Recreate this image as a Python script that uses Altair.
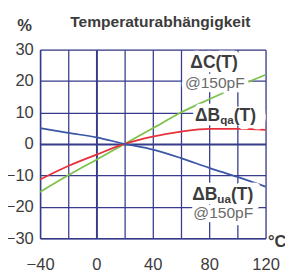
import altair as alt
import pandas as pd

# data
temps = [-40, -20, 0, 20, 40, 60, 80, 100, 120]
dC = [-15.3, -10.0, -5.0, 0.0, 5.0, 10.0, 14.2, 18.2, 22.0]
dBqa = [-11.3, -7.0, -3.4, 0.0, 2.3, 3.9, 4.8, 4.8, 4.5]
dBua = [5.0, 3.5, 2.1, 0.0, -1.8, -4.5, -7.6, -10.5, -13.6]
series_names = ["ΔC(T)", "ΔBqa(T)", "ΔBua(T)"]
series_colors = ["#7cc24a", "#e8303a", "#3b56a6"]

x_ticks = [-40, -20, 0, 20, 40, 60, 80, 100, 120]
y_ticks = [-30, -20, -10, 0, 10, 20, 30]

lab_main = ["ΔC(T)"]
lab_main_x = [83.5]
lab_main_y = [25.6]
note_text = ["@150pF", "@150pF"]
note_x = [84.0, 90.0]
note_y = [19.2, -22.0]
sub_text = ["qa", "ua"]
sub_x = [87.8, 85.8]
sub_y = [8.9, -16.2]

GRID = "#363b8c"
TXT = "#3c3c3c"
FONT = "Liberation Sans"

rows = []
for name, vals in zip(series_names, [dC, dBqa, dBua]):
    for t, v in zip(temps, vals):
        rows.append({"T": t, "v": v, "s": name})
df = pd.DataFrame(rows)

xs = alt.Scale(domain=[-40, 120], nice=False, zero=False)
ys = alt.Scale(domain=[-30, 30], nice=False, zero=False)

gw = {"condition": {"test": "datum.value === 0", "value": 2}, "value": 1.3}

XAX = alt.Axis(
    values=x_ticks, title="°C", labelExpr="datum.value % 40 == 0 ? datum.label : ''",
    labelFont=FONT, labelFontSize=17, labelColor=TXT, labelBaseline="alphabetic",
    labelPadding=32, tickSize=0, labelFlush=False, labelOverlap=False,
    domainColor=GRID, domainWidth=1.5,
    gridColor=GRID, gridOpacity=1, gridWidth=gw,
    titleFont=FONT, titleFontSize=17, titleFontWeight="bold", titleColor=TXT,
    titleX=234, titleY=9, titleAlign="left", titleBaseline="alphabetic",
)
YAX = alt.Axis(
    values=y_ticks, title="%", titleAngle=0,
    labelFont=FONT, labelFontSize=17, labelColor=TXT, labelPadding=7, tickSize=0,
    labelFlush=False, labelOverlap=False,
    domainColor=GRID, domainWidth=1.5,
    gridColor=GRID, gridOpacity=1, gridWidth=gw,
    titleFont=FONT, titleFontSize=17, titleFontWeight="bold", titleColor=TXT,
    titleX=-24, titleY=-20, titleAlign="left", titleBaseline="alphabetic",
)

lines = alt.Chart(df).mark_line(strokeWidth=1.8, interpolate="monotone").encode(
    x=alt.X("T:Q", scale=xs, axis=XAX, title="°C"),
    y=alt.Y("v:Q", scale=ys, axis=YAX, title="%"),
    color=alt.Color("s:N", scale=alt.Scale(domain=series_names, range=series_colors), legend=None),
)

main_df = pd.DataFrame({"x": lab_main_x, "y": lab_main_y, "t": lab_main})
note_df = pd.DataFrame({"x": note_x, "y": note_y, "t": note_text})
comp_df = pd.DataFrame({"x": sub_x, "y": sub_y, "t": sub_text})

HALO = dict(stroke="white", strokeWidth=9, fill="white", strokeJoin="round")


def enc(ch, with_text=True):
    kw = dict(x=alt.X("x:Q", scale=xs, axis=XAX, title="°C"),
              y=alt.Y("y:Q", scale=ys, axis=YAX, title="%"))
    if with_text:
        kw["text"] = "t:N"
    return ch.encode(**kw)


layers = [lines]
# halos
layers.append(enc(alt.Chart(main_df).mark_text(font=FONT, fontSize=18, fontWeight="bold", align="center", baseline="middle", **HALO)))
layers.append(enc(alt.Chart(note_df).mark_text(font=FONT, fontSize=16, align="center", baseline="middle", **HALO)))
layers.append(enc(alt.Chart(comp_df).mark_text(font=FONT, fontSize=18, fontWeight="bold", align="right", baseline="middle", text="ΔB", **HALO), False))
layers.append(enc(alt.Chart(comp_df).mark_text(font=FONT, fontSize=18, fontWeight="bold", align="left", baseline="middle", text="xx(T)", **HALO), False))
# texts
layers.append(enc(alt.Chart(main_df).mark_text(font=FONT, fontSize=18, fontWeight="bold", align="center", baseline="middle", fill=TXT)))
layers.append(enc(alt.Chart(note_df).mark_text(font=FONT, fontSize=16, align="center", baseline="middle", fill="#6a6a6a")))
layers.append(enc(alt.Chart(comp_df).mark_text(font=FONT, fontSize=18, fontWeight="bold", align="right", baseline="middle", text="ΔB", fill=TXT), False))
layers.append(enc(alt.Chart(comp_df).mark_text(font=FONT, fontSize=12, fontWeight="bold", align="left", baseline="middle", dy=4, fill=TXT)))
layers.append(enc(alt.Chart(comp_df).mark_text(font=FONT, fontSize=18, fontWeight="bold", align="left", baseline="middle", text="(T)", dx=14, fill=TXT), False))

layers.append(alt.Chart(pd.DataFrame({"t": ["Temperaturabhängigkeit"]})).mark_text(
    font=FONT, fontSize=16, fontWeight="bold", align="left", baseline="alphabetic", fill=TXT
).encode(x=alt.value(31), y=alt.value(-23), text="t:N"))

chart = alt.layer(*layers).properties(
    width=232, height=194,
    autosize=alt.AutoSizeParams(type="none"),
    padding={"left": 33, "top": 39, "right": 20, "bottom": 34},
).configure_view(stroke=GRID, strokeWidth=1.5).configure(background="white")

chart.save("out.html", embed_options={"renderer": "svg", "actions": False})
